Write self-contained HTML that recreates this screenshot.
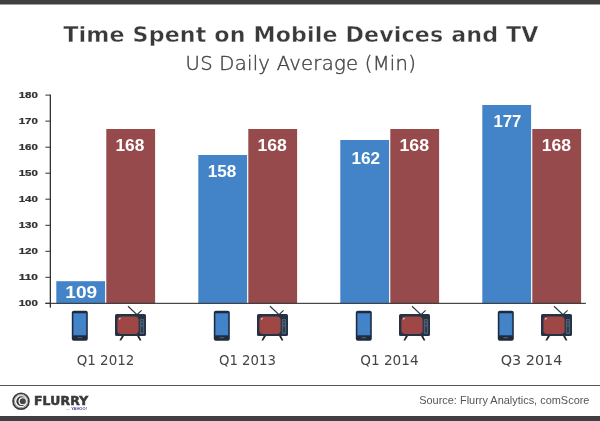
<!DOCTYPE html>
<html lang="en"><head><meta charset="utf-8"><title>Time Spent on Mobile Devices and TV</title>
<style>
html,body{margin:0;padding:0;background:#fff;}
body{width:600px;height:421px;overflow:hidden;}
svg{display:block;}
.t{font-family:"DejaVu Sans","Liberation Sans",sans-serif;font-weight:bold;fill:#3a3a3a;stroke:#fff;stroke-width:0.4px;}
.s{font-family:"DejaVu Sans","Liberation Sans",sans-serif;font-weight:200;fill:#444;stroke:#444;stroke-width:0.4px;}
.ax{font-family:"Liberation Sans",sans-serif;font-weight:bold;fill:#333;stroke:#333;stroke-width:0.25px;}
.v{font-family:"Liberation Sans",sans-serif;font-weight:bold;fill:#fff;}
.q{font-family:"DejaVu Sans","Liberation Sans",sans-serif;fill:#444;}
.src{font-family:"Liberation Sans",sans-serif;fill:#555;}
.fl{font-family:"DejaVu Sans","Liberation Sans",sans-serif;font-weight:bold;fill:#3a3a3a;stroke:#3a3a3a;stroke-width:0.55px;}
.yh{font-family:"Liberation Sans",sans-serif;font-weight:bold;fill:#4b3a9c;}
.fr{font-family:"Liberation Sans",sans-serif;fill:#888;}
</style></head><body>
<svg width="600" height="421" viewBox="0 0 600 421">
<rect x="0" y="0" width="600" height="421" fill="#fff"/>
<rect x="0" y="0" width="600" height="4.5" fill="#404040"/>
<rect x="0" y="416" width="600" height="5" fill="#404040"/>
<rect x="0" y="385" width="600" height="1" fill="#555"/>

<rect x="45.4" y="94.6" width="5" height="1" fill="#333"/>
<rect x="45.4" y="120.6" width="5" height="1" fill="#333"/>
<rect x="45.4" y="146.7" width="5" height="1" fill="#333"/>
<rect x="45.4" y="172.7" width="5" height="1" fill="#333"/>
<rect x="45.4" y="198.7" width="5" height="1" fill="#333"/>
<rect x="45.4" y="224.8" width="5" height="1" fill="#333"/>
<rect x="45.4" y="250.8" width="5" height="1" fill="#333"/>
<rect x="45.4" y="276.8" width="5" height="1" fill="#333"/>
<rect x="45.4" y="302.8" width="5" height="1" fill="#333"/>
<rect x="56.3" y="281.2" width="48.8" height="22.3" fill="#4384c8"/>
<rect x="106.3" y="129.0" width="48.8" height="174.5" fill="#964a4b"/>
<g transform="translate(71.8,310.8)"><rect x="0" y="0" width="16" height="30" rx="2" fill="#1f2b3d"/><rect x="1.4" y="2.3" width="13.2" height="22.4" rx="0.5" fill="#2f5f9e"/><rect x="1.9" y="2.9" width="12.2" height="21.2" fill="#4384c8"/><rect x="5.5" y="26.3" width="5" height="1.2" rx="0.6" fill="#4a586b"/></g>
<g transform="translate(115,306)"><path d="M13 0.2 L22 8.6 L26.6 4.4" fill="none" stroke="#2a3748" stroke-width="1.2"/><path d="M7 29.5 L9.3 29.5 L6.2 34.6 L4.4 34.6 Z M21.8 29.5 L24 29.5 L26.4 34.6 L24.6 34.6 Z" fill="#1a2535"/><rect x="0" y="8" width="31" height="22" rx="1.6" fill="#253244"/><rect x="2.4" y="10.4" width="21.2" height="17.6" rx="3.8" fill="#9e4744"/><rect x="24.8" y="13" width="4.3" height="15" rx="0.8" fill="#4b5e72"/><circle cx="26.9" cy="15" r="0.9" fill="#2c3a4d"/><circle cx="26.9" cy="18" r="0.9" fill="#2c3a4d"/><rect x="26" y="20.5" width="1.9" height="6" fill="#2c3a4d"/><ellipse cx="4.8" cy="12.7" rx="1.2" ry="0.8" transform="rotate(-40 4.8 12.7)" fill="#e8b8b4"/></g>
<rect x="198.3" y="155.0" width="48.8" height="148.5" fill="#4384c8"/>
<rect x="248.3" y="129.0" width="48.8" height="174.5" fill="#964a4b"/>
<g transform="translate(213.8,310.8)"><rect x="0" y="0" width="16" height="30" rx="2" fill="#1f2b3d"/><rect x="1.4" y="2.3" width="13.2" height="22.4" rx="0.5" fill="#2f5f9e"/><rect x="1.9" y="2.9" width="12.2" height="21.2" fill="#4384c8"/><rect x="5.5" y="26.3" width="5" height="1.2" rx="0.6" fill="#4a586b"/></g>
<g transform="translate(257,306)"><path d="M13 0.2 L22 8.6 L26.6 4.4" fill="none" stroke="#2a3748" stroke-width="1.2"/><path d="M7 29.5 L9.3 29.5 L6.2 34.6 L4.4 34.6 Z M21.8 29.5 L24 29.5 L26.4 34.6 L24.6 34.6 Z" fill="#1a2535"/><rect x="0" y="8" width="31" height="22" rx="1.6" fill="#253244"/><rect x="2.4" y="10.4" width="21.2" height="17.6" rx="3.8" fill="#9e4744"/><rect x="24.8" y="13" width="4.3" height="15" rx="0.8" fill="#4b5e72"/><circle cx="26.9" cy="15" r="0.9" fill="#2c3a4d"/><circle cx="26.9" cy="18" r="0.9" fill="#2c3a4d"/><rect x="26" y="20.5" width="1.9" height="6" fill="#2c3a4d"/><ellipse cx="4.8" cy="12.7" rx="1.2" ry="0.8" transform="rotate(-40 4.8 12.7)" fill="#e8b8b4"/></g>
<rect x="340.3" y="140.0" width="48.8" height="163.5" fill="#4384c8"/>
<rect x="390.3" y="129.0" width="48.8" height="174.5" fill="#964a4b"/>
<g transform="translate(355.8,310.8)"><rect x="0" y="0" width="16" height="30" rx="2" fill="#1f2b3d"/><rect x="1.4" y="2.3" width="13.2" height="22.4" rx="0.5" fill="#2f5f9e"/><rect x="1.9" y="2.9" width="12.2" height="21.2" fill="#4384c8"/><rect x="5.5" y="26.3" width="5" height="1.2" rx="0.6" fill="#4a586b"/></g>
<g transform="translate(399,306)"><path d="M13 0.2 L22 8.6 L26.6 4.4" fill="none" stroke="#2a3748" stroke-width="1.2"/><path d="M7 29.5 L9.3 29.5 L6.2 34.6 L4.4 34.6 Z M21.8 29.5 L24 29.5 L26.4 34.6 L24.6 34.6 Z" fill="#1a2535"/><rect x="0" y="8" width="31" height="22" rx="1.6" fill="#253244"/><rect x="2.4" y="10.4" width="21.2" height="17.6" rx="3.8" fill="#9e4744"/><rect x="24.8" y="13" width="4.3" height="15" rx="0.8" fill="#4b5e72"/><circle cx="26.9" cy="15" r="0.9" fill="#2c3a4d"/><circle cx="26.9" cy="18" r="0.9" fill="#2c3a4d"/><rect x="26" y="20.5" width="1.9" height="6" fill="#2c3a4d"/><ellipse cx="4.8" cy="12.7" rx="1.2" ry="0.8" transform="rotate(-40 4.8 12.7)" fill="#e8b8b4"/></g>
<rect x="482.3" y="105.0" width="48.8" height="198.5" fill="#4384c8"/>
<rect x="532.3" y="129.0" width="48.8" height="174.5" fill="#964a4b"/>
<g transform="translate(497.8,310.8)"><rect x="0" y="0" width="16" height="30" rx="2" fill="#1f2b3d"/><rect x="1.4" y="2.3" width="13.2" height="22.4" rx="0.5" fill="#2f5f9e"/><rect x="1.9" y="2.9" width="12.2" height="21.2" fill="#4384c8"/><rect x="5.5" y="26.3" width="5" height="1.2" rx="0.6" fill="#4a586b"/></g>
<g transform="translate(541,306)"><path d="M13 0.2 L22 8.6 L26.6 4.4" fill="none" stroke="#2a3748" stroke-width="1.2"/><path d="M7 29.5 L9.3 29.5 L6.2 34.6 L4.4 34.6 Z M21.8 29.5 L24 29.5 L26.4 34.6 L24.6 34.6 Z" fill="#1a2535"/><rect x="0" y="8" width="31" height="22" rx="1.6" fill="#253244"/><rect x="2.4" y="10.4" width="21.2" height="17.6" rx="3.8" fill="#9e4744"/><rect x="24.8" y="13" width="4.3" height="15" rx="0.8" fill="#4b5e72"/><circle cx="26.9" cy="15" r="0.9" fill="#2c3a4d"/><circle cx="26.9" cy="18" r="0.9" fill="#2c3a4d"/><rect x="26" y="20.5" width="1.9" height="6" fill="#2c3a4d"/><ellipse cx="4.8" cy="12.7" rx="1.2" ry="0.8" transform="rotate(-40 4.8 12.7)" fill="#e8b8b4"/></g>
<rect x="49.7" y="94.6" width="1.3" height="213" fill="#333"/>
<rect x="45.4" y="302.8" width="540.5" height="1.1" fill="#333"/>
<text class="t" style="font-size:22.09px;letter-spacing:0.135px;" transform="translate(63.30,41.60) scale(1.0041,1)" >Time Spent on Mobile Devices and TV</text>
<text class="s" style="font-size:19.20px;letter-spacing:0.237px;" transform="translate(185.56,70.00) scale(1.0225,1)" >US Daily Average (Min)</text>
<text class="src" style="font-size:11.00px;" transform="translate(419.20,404.10) scale(0.9950,1)" >Source: Flurry Analytics, comScore</text>
<text class="fl" style="font-size:11.80px;letter-spacing:0.216px;" transform="translate(33.95,405.30) scale(1.0491,1)" >FLURRY</text>
<text class="fr" style="font-size:2.40px;" transform="translate(66.30,409.80) scale(0.6890,1)" >from</text>
<text class="yh" style="font-size:3.20px;" transform="translate(71.20,409.90) scale(1.2667,1)" >YAHOO!</text>
<text class="v" style="font-size:16.48px;" transform="translate(65.34,297.80) scale(1.1589,1)" >109</text>
<text class="v" style="font-size:16.76px;" transform="translate(115.47,151.00) scale(1.0326,1)" >168</text>
<text class="v" style="font-size:16.76px;" transform="translate(207.78,176.80) scale(1.0214,1)" >158</text>
<text class="v" style="font-size:16.76px;" transform="translate(257.45,151.20) scale(1.0514,1)" >168</text>
<text class="v" style="font-size:16.48px;" transform="translate(351.46,163.60) scale(1.0449,1)" >162</text>
<text class="v" style="font-size:16.48px;" transform="translate(399.42,151.30) scale(1.0753,1)" >168</text>
<text class="v" style="font-size:16.76px;" transform="translate(493.40,127.00) scale(0.9988,1)" >177</text>
<text class="v" style="font-size:16.76px;" transform="translate(541.65,151.20) scale(1.0514,1)" >168</text>
<text class="q" style="font-size:13.58px;" transform="translate(76.70,364.50) scale(0.9903,1)" >Q1 2012</text>
<text class="q" style="font-size:13.58px;" transform="translate(219.00,364.50) scale(0.9781,1)" >Q1 2013</text>
<text class="q" style="font-size:13.58px;" transform="translate(360.30,364.50) scale(1.0025,1)" >Q1 2014</text>
<text class="q" style="font-size:13.58px;" transform="translate(500.70,364.50) scale(1.0598,1)" >Q3 2014</text>
<text class="ax" style="font-size:9.78px;" transform="translate(18.70,98.20) scale(1.1801,1)" >180</text>
<text class="ax" style="font-size:9.78px;" transform="translate(18.70,124.23) scale(1.1801,1)" >170</text>
<text class="ax" style="font-size:9.78px;" transform="translate(18.70,150.26) scale(1.1801,1)" >160</text>
<text class="ax" style="font-size:9.78px;" transform="translate(18.70,176.29) scale(1.1801,1)" >150</text>
<text class="ax" style="font-size:9.78px;" transform="translate(18.70,202.32) scale(1.1801,1)" >140</text>
<text class="ax" style="font-size:9.78px;" transform="translate(18.70,228.35) scale(1.1801,1)" >130</text>
<text class="ax" style="font-size:9.78px;" transform="translate(18.70,254.38) scale(1.1801,1)" >120</text>
<text class="ax" style="font-size:9.78px;" transform="translate(18.70,280.41) scale(1.2191,1)" >110</text>
<text class="ax" style="font-size:9.78px;" transform="translate(18.70,306.44) scale(1.1801,1)" >100</text>
<g transform="translate(21,401.2)">
<circle r="7.95" fill="none" stroke="#3a3a3a" stroke-width="1.7"/>
<circle r="6.5" fill="none" stroke="#6a6a6a" stroke-width="0.7"/>
<circle cx="0.3" cy="0" r="4.9" fill="#3a3a3a"/>
<circle cx="1.4" cy="0" r="3.9" fill="#fff"/>
<circle cx="1.8" cy="0.1" r="3.05" fill="#454545"/>
</g>

</svg></body></html>
